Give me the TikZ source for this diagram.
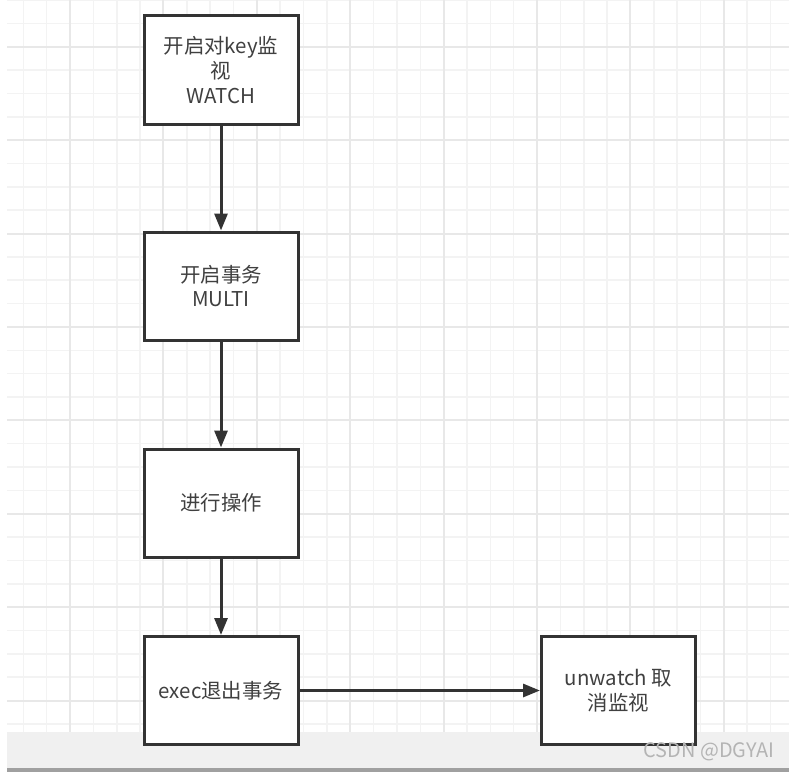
\documentclass[tikz,border=0pt]{standalone}
\usepackage{fontspec}
\setmainfont{Noto Sans CJK SC}
\usetikzlibrary{arrows.meta,positioning}
\definecolor{BoxEdge}{HTML}{333333}
\definecolor{BoxText}{HTML}{404040}
\definecolor{GridMinor}{HTML}{F3F3F3}
\definecolor{GridMajor}{HTML}{E8E8E8}
\definecolor{BarFill}{HTML}{F0F0F0}
\definecolor{BarEdge}{HTML}{A0A0A0}
\definecolor{MarkText}{HTML}{B4B4B4}

\begin{document}
\begin{tikzpicture}[x=1bp,y=-1bp,
    box/.style={draw=BoxEdge,line width=3bp,fill=white,minimum width=154bp,minimum height=108bp,
                align=center,inner sep=0pt,text=BoxText,font=\fontsize{20.5}{25}\selectfont},
    arr/.style={draw=BoxEdge,line width=3bp,-{Triangle[length=17bp,width=13bp]}},
    gridminor/.style={draw=GridMinor,line width=1.5bp},
    gridmajor/.style={draw=GridMajor,line width=2bp}]
  \useasboundingbox (0,0) rectangle (789,772);
  \fill[white] (0,0) rectangle (789,772);
  % grid
  \foreach \k in {1,...,33} \draw[gridminor] ({23.35*\k},0) -- ({23.35*\k},732);
  \foreach \k in {0,...,31} \draw[gridminor] (7,{23.35*\k}) -- (789,{23.35*\k});
  \foreach \k in {3,7,...,31} \draw[gridmajor] ({23.35*\k},0) -- ({23.35*\k},732);
  \foreach \k in {2,6,...,30} \draw[gridmajor] (7,{23.35*\k}) -- (789,{23.35*\k});
  % bottom bar
  \fill[BarFill] (7,732) rectangle (789,768);
  \fill[BarEdge] (7,768) rectangle (789,772);
  % steps
  \node[box] (watch)   at (221,70)      {开启对key监\\视\\WATCH};
  \node[box] (multi)   at (221,286)     {开启事务\\MULTI};
  \node[box] (ops)     at (221,503)     {进行操作};
  \node[box] (exec)    at (221,690.5)   {exec退出事务};
  \node[box] (unwatch) at (618.5,690.5) {unwatch 取\\消监视};
  \draw[arr] (watch) -- (multi);
  \draw[arr] (multi) -- (ops);
  \draw[arr] (ops)   -- (exec);
  \draw[arr] (exec)  -- (unwatch);
  \node[text=MarkText,font=\fontsize{20}{22}\selectfont,anchor=east,inner sep=0pt] (csdn) at (775,752) {CSDN @DGYAI};
\end{tikzpicture}
\end{document}
